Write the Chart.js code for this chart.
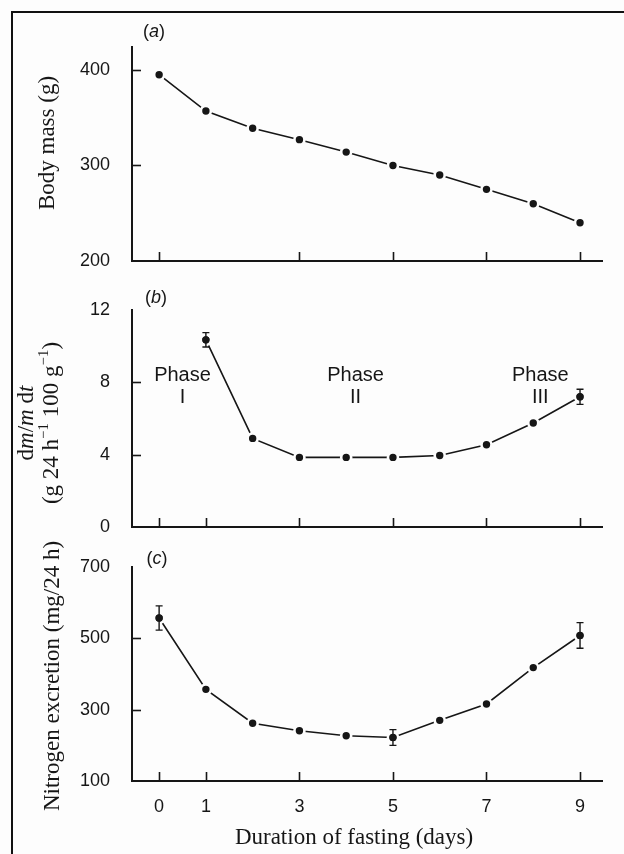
<!DOCTYPE html>
<html><head><meta charset="utf-8">
<script src="https://cdn.jsdelivr.net/npm/chart.js@4.4.1/dist/chart.umd.min.js"></script>
<style>
html,body{margin:0;padding:0;background:#fff;}
#wrap{position:relative;width:624px;height:854px;overflow:hidden;background:#fdfdfd;}
#frame{position:absolute;left:11px;top:11px;width:700px;height:900px;border-left:2px solid #111;border-top:2px solid #111;}
canvas{position:absolute;left:0;}
</style></head><body>
<div id="wrap"><div id="frame"></div>
<canvas id="ca" width="624" height="290" style="top:0px;width:624px;height:290px"></canvas>
<canvas id="cb" width="624" height="280" style="top:280px;width:624px;height:280px"></canvas>
<canvas id="cc" width="624" height="334" style="top:520px;width:624px;height:334px"></canvas>
</div>
<script>
// ---- data ----
const days = [0, 1, 2, 3, 4, 5, 6, 7, 8, 9];
const bodyMass = [395, 357, 339, 327, 314, 300, 290, 275, 260, 240];
const massLossRate = [null, 10.35, 4.9, 3.85, 3.85, 3.85, 3.95, 4.55, 5.75, 7.2];
const massLossErr = [null, 0.4, null, null, null, null, null, null, null, 0.42];
const nitrogen = [557, 357, 262, 241, 227, 222, 270, 316, 418, 508];
const nitrogenErr = [34, null, null, null, null, 22, null, null, null, 36];
const xTicksA = [0, 3, 5, 7, 9];
const xTicksBC = [0, 1, 3, 5, 7, 9];
const yTicksA = [200, 300, 400];
const yTicksB = [0, 4, 8, 12];
const yTicksC = [100, 300, 500, 700];
const phaseNames = ['I', 'II', 'III'];
const phaseX = [0.5, 4.2, 8.15];
const phaseWordY = 8.4;
const phaseNumY = 7.15;

const INK = '#161616';
const SANS = '"Liberation Sans", Arial, sans-serif';
const SERIF = '"Liberation Serif", "Times New Roman", serif';

function pts(vals) {
  const out = [];
  days.forEach((d, i) => { if (vals[i] !== null) out.push({x: d, y: vals[i], e: null}); });
  return out;
}
function errs(vals, e) {
  const out = [];
  days.forEach((d, i) => { if (vals[i] !== null) out.push(e[i]); });
  return out;
}

function drawRuns(ctx, runs, cx, cy, rot, size, family) {
  ctx.save();
  ctx.translate(cx, cy);
  if (rot) ctx.rotate(-Math.PI / 2);
  ctx.textBaseline = 'middle';
  ctx.textAlign = 'left';
  ctx.fillStyle = INK;
  const fontOf = r => (r.i ? 'italic ' : '') + (r.s ? size * 0.65 : size) + 'px ' + family;
  let total = 0;
  runs.forEach(r => { ctx.font = fontOf(r); total += ctx.measureText(r.t).width; });
  let x = -total / 2;
  runs.forEach(r => {
    ctx.font = fontOf(r);
    ctx.fillText(r.t, x, r.s ? -size * 0.35 : 0);
    x += ctx.measureText(r.t).width;
  });
  ctx.restore();
}

const decor = {
  id: 'decor',
  afterDatasetsDraw(chart) {
    const c = chart.config.options.plugins.decorCfg;
    const ctx = chart.ctx;
    const xs = chart.scales.x, ys = chart.scales.y;
    const ca = chart.chartArea;
    ctx.save();
    ctx.strokeStyle = INK;
    ctx.lineWidth = 1.6;
    // inward tick marks
    xs.ticks.forEach(t => {
      const px = Math.round(xs.getPixelForValue(t.value)) + 0.5;
      ctx.beginPath(); ctx.moveTo(px, ca.bottom); ctx.lineTo(px, ca.bottom - 9); ctx.stroke();
    });
    ys.ticks.forEach(t => {
      if (t.value <= ys.min || t.value >= ys.max) return;
      const py = Math.round(ys.getPixelForValue(t.value)) + 0.5;
      ctx.beginPath(); ctx.moveTo(ca.left, py); ctx.lineTo(ca.left + 9, py); ctx.stroke();
    });
    // error bars
    const ds = chart.data.datasets[0];
    ds.data.forEach((p, i) => {
      const e = ds.errors[i];
      if (e === null || e === undefined) return;
      const px = xs.getPixelForValue(p.x);
      const y1 = ys.getPixelForValue(p.y + e), y2 = ys.getPixelForValue(p.y - e);
      ctx.lineWidth = 1.4;
      ctx.beginPath();
      ctx.moveTo(px, y1); ctx.lineTo(px, y2);
      ctx.moveTo(px - 3.5, y1); ctx.lineTo(px + 3.5, y1);
      ctx.moveTo(px - 3.5, y2); ctx.lineTo(px + 3.5, y2);
      ctx.stroke();
      ctx.fillStyle = INK;
      ctx.beginPath(); ctx.arc(px, ys.getPixelForValue(p.y), 3.6, 0, Math.PI * 2); ctx.fill();
    });
    // panel letter
    ctx.fillStyle = INK;
    drawRuns(ctx, [{t: '('}, {t: c.letter, i: 1}, {t: ')'}], ca.left + c.letterDx, ca.top + c.letterDy, false, 18, SANS);
    // phase labels
    if (c.phases) {
      phaseNames.forEach((n, i) => {
        const px = xs.getPixelForValue(phaseX[i]);
        drawRuns(ctx, [{t: 'Phase'}], px, ys.getPixelForValue(phaseWordY), false, 20, SANS);
        drawRuns(ctx, [{t: n}], px, ys.getPixelForValue(phaseNumY), false, 20, SANS);
      });
    }
    // axis titles
    c.yTitles.forEach(t => drawRuns(ctx, t.runs, t.x, t.y, true, 23, SERIF));
    if (c.xTitle) drawRuns(ctx, c.xTitle.runs, c.xTitle.x, c.xTitle.y, false, 23, SERIF);
    ctx.restore();
  }
};

function makeChart(id, o) {
  return new Chart(document.getElementById(id), {
    type: 'line',
    data: {datasets: [{
      data: o.points, errors: o.errors,
      borderColor: INK, borderWidth: 1.6, tension: 0,
      pointRadius: 5, pointBackgroundColor: INK, pointBorderColor: '#fdfdfd', pointBorderWidth: 2.6
    }]},
    options: {
      responsive: false, animation: false, events: [],
      layout: {padding: {top: o.top, right: 22, left: 0, bottom: 0}},
      plugins: {legend: {display: false}, tooltip: {enabled: false}, decorCfg: o.decor},
      scales: {
        x: {
          type: 'linear', min: -0.58, max: 9.47,
          afterBuildTicks: s => { s.ticks = o.xTicks.map(v => ({value: v})); },
          afterFit: s => { s.height = o.xHeight; },
          grid: {display: false},
          border: {display: true, color: INK, width: 2},
          ticks: {display: o.xLabels, padding: 7, color: INK, font: {family: SANS, size: 18}}
        },
        y: {
          min: o.yMin, max: o.yMax,
          afterBuildTicks: s => { s.ticks = o.yTicks.map(v => ({value: v})); },
          afterFit: s => { s.width = 132; },
          grid: {display: false},
          border: {display: true, color: INK, width: 2},
          ticks: {padding: 14, color: INK, font: {family: SANS, size: 18}}
        }
      }
    },
    plugins: [decor]
  });
}

makeChart('ca', {
  points: pts(bodyMass), errors: errs(bodyMass, days.map(() => null)),
  top: 47, xHeight: 29, xTicks: xTicksA, xLabels: false,
  yMin: 200, yMax: 424, yTicks: yTicksA,
  decor: {letter: 'a', letterDx: 22, letterDy: -15, phases: false,
    yTitles: [{runs: [{t: 'Body mass (g)'}], x: 48, y: 143}]}
});

makeChart('cb', {
  points: pts(massLossRate), errors: errs(massLossRate, massLossErr),
  top: 30, xHeight: 33, xTicks: xTicksBC, xLabels: false,
  yMin: 0, yMax: 12, yTicks: yTicksB,
  decor: {letter: 'b', letterDx: 24, letterDy: -12, phases: true,
    yTitles: [
      {runs: [{t: 'd'}, {t: 'm', i: 1}, {t: '/'}, {t: 'm', i: 1}, {t: ' d'}, {t: 't', i: 1}], x: 27, y: 143},
      {runs: [{t: '(g 24 h'}, {t: '\u22121', s: 1}, {t: ' 100 g'}, {t: '\u22121', s: 1}, {t: ')'}], x: 52, y: 143}
    ]}
});

makeChart('cc', {
  points: pts(nitrogen), errors: errs(nitrogen, nitrogenErr),
  top: 47, xHeight: 73, xTicks: xTicksBC, xLabels: true,
  yMin: 100, yMax: 700, yTicks: yTicksC,
  decor: {letter: 'c', letterDx: 25, letterDy: -8, phases: false,
    yTitles: [{runs: [{t: 'Nitrogen excretion (mg/24 h)'}], x: 53, y: 156}],
    xTitle: {runs: [{t: 'Duration of fasting (days)'}], x: 354, y: 318}}
});
</script>
</body></html>
